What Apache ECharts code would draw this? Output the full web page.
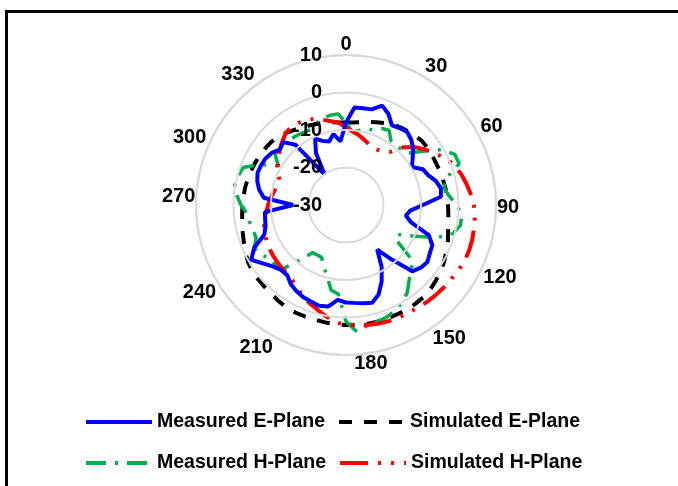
<!DOCTYPE html>
<html>
<head>
<meta charset="utf-8">
<script src="https://cdn.jsdelivr.net/npm/echarts@6/dist/echarts.min.js"></script>
<style>
html, body { margin: 0; padding: 0; background: #fff; }
#chart { width: 678px; height: 486px; }
</style>
</head>
<body>
<div id="chart"></div>
<script>
// angle in degrees, clockwise from top
const angles = [0, 5, 10, 15, 20, 25, 30, 35, 40, 45, 50, 55, 60, 65, 70, 75, 80, 85,
    90, 95, 100, 105, 110, 115, 120, 125, 130, 135, 140, 145, 150, 155, 160, 165, 170, 175,
    180, 185, 190, 195, 200, 205, 210, 215, 220, 225, 230, 235, 240, 245, 250, 255, 260, 265,
    270, 275, 280, 285, 290, 295, 300, 305, 310, 315, 320, 325, 330, 335, 340, 345, 350, 355];

// gain in dB
const measuredE = [-8.0, -3.9, -3.8, -3.6, -1.8, -3.2, -5.5, -5.0, -4.6, -5.4, -6.6, -8.3, -9.7, -7.4, -6.7, -5.2, -4.3, -4.6,
    -9.5, -12.8, -13.8, -12.0, -6.5, -4.6, -4.2, -3.5, -4.0, -5.0, -11.0, -15.5, -11.0, -7.5, -4.6, -3.0, -3.4, -3.8,
    -4.0, -4.6, -2.5, -2.2, -2.6, -2.9, -3.5, -4.3, -5.6, -5.5, -4.5, -2.9, -0.8, -3.0, -6.8, -7.8, -8.1, -8.3,
    -15.9, -8.0, -6.5, -5.5, -4.9, -5.0, -5.2, -5.8, -7.0, -6.3, -9.0, -20.0, -14.0, -10.5, -11.8, -12.5, -10.8, -13.0];

const simulatedE = [-8.0, -7.9, -7.6, -7.1, -6.5, -5.9, -5.2, -4.7, -4.3, -3.9, -3.5, -3.5, -3.5, -3.5, -3.4, -3.3, -3.1, -3.0,
    -2.8, -2.6, -2.3, -1.8, -1.1, -0.5, 0.2, 0.8, 1.3, 1.8, 2.1, 2.2, 2.2, 2.2, 2.2, 2.2, 2.2, 2.1,
    2.0, 1.9, 1.8, 1.7, 1.7, 1.7, 1.6, 1.3, 1.0, 0.8, 0.7, 0.6, 0.2, -0.4, -1.0, -1.5, -1.9, -2.2,
    -2.4, -2.6, -2.7, -2.9, -3.1, -3.3, -3.5, -3.7, -3.9, -4.3, -5.0, -5.6, -6.2, -6.6, -7.0, -7.3, -7.6, -7.9];

const measuredH = [-8.0, -10.5, -9.8, -9.0, -8.7, -7.5, -7.0, -9.1, -9.4, -9.0, -8.5, -5.0, -0.5, 2.0, 2.1, -2.3, -3.5, -2.4,
    -0.5, 1.0, 1.0, -0.5, -4.5, -10.5, -14.3, -13.5, -6.6, -5.5, -3.8, -1.5, 0.0, 1.0, 1.8, 2.2, 2.6, 4.0,
    1.0, -6.2, -7.0, -10.5, -12.5, -14.6, -14.6, -14.5, -11.0, -5.5, -5.3, -5.3, -3.5, -3.0, -4.5, -4.3, -3.9, -3.5,
    -2.0, -0.8, 0.1, -0.2, -0.8, -4.5, -9.2, -7.0, -5.8, -6.5, -7.1, -7.3, -7.6, -7.8, -6.8, -6.1, -5.7, -5.6];

const simulatedH = [-9.3, -10.3, -11.0, -11.8, -12.6, -13.2, -13.0, -12.6, -11.5, -8.2, -6.0, -4.2, -2.6, -0.5, 0.8, 1.8, 2.6, 3.4,
    4.1, 4.5, 4.7, 4.9, 5.0, 5.0, 4.7, 4.3, 4.1, 3.9, 3.7, 3.4, 3.2, 3.1, 3.0, 2.8, 2.5, 2.2,
    2.0, 1.4, 0.2, -1.0, -2.0, -3.0, -4.3, -5.3, -5.8, -6.0, -6.2, -6.3, -6.5, -6.7, -7.0, -7.4, -7.8, -8.7,
    -9.2, -9.8, -10.4, -10.9, -11.2, -10.0, -9.0, -8.2, -6.9, -6.0, -5.0, -4.6, -4.7, -5.0, -5.5, -6.5, -7.3, -8.0];

const seriesNames = ['Measured E-Plane', 'Simulated E-Plane', 'Measured H-Plane', 'Simulated H-Plane'];

// polar points [r, angle], closed back to the start
function toPolar(vals) {
    const pts = angles.map((a, i) => [vals[i], a]);
    pts.push([vals[0], 360]);
    return pts;
}

const font = 'Liberation Sans, Arial, sans-serif';
const chart = echarts.init(document.getElementById('chart'), null, { renderer: 'canvas' });

// the original tool set its angle labels a little off the exact 30 degree marks
const angleLabelSpots = [0, 31.6, 62.9, 91, 114.6, 145, 170.5, 209, 239.3, 273.3, 292.3, 322.8];

const legendText = { color: '#000', fontSize: 19.5, fontWeight: 'bold', fontFamily: font };

chart.setOption({
    backgroundColor: '#fff',
    animation: false,
    graphic: [{
        type: 'rect',
        shape: { x: 6.5, y: 11.5, width: 700, height: 500 },
        style: { fill: 'none', stroke: '#000', lineWidth: 3 },
        silent: true
    }],
    polar: {
        center: [346, 205],
        radius: 150
    },
    angleAxis: {
        type: 'value',
        min: 0,
        max: 360,
        interval: 30,
        startAngle: 90,
        clockwise: true,
        axisLine: { show: true, lineStyle: { color: '#d9d9d9', width: 2 } },
        axisTick: { show: false },
        splitLine: { show: false },
        axisLabel: {
            margin: 1,
            customValues: angleLabelSpots,
            color: '#000',
            fontSize: 20,
            fontWeight: 'bold',
            fontFamily: font,
            formatter: v => String((Math.round(v / 30) * 30) % 360)
        }
    },
    radiusAxis: {
        type: 'value',
        min: -30,
        max: 10,
        interval: 10,
        z: 10,
        axisLine: { show: false },
        axisTick: { show: false },
        splitLine: { show: true, lineStyle: { color: '#d9d9d9', width: 2 } },
        axisLabel: {
            margin: 24,
            padding: [6, 0, 0, 0],
            color: '#000',
            fontSize: 20,
            fontWeight: 'bold',
            fontFamily: font
        }
    },
    legend: [
        {
            data: [seriesNames[0], seriesNames[1]],
            left: 79,
            top: 407,
            itemWidth: 66,
            itemHeight: 14,
            itemGap: 12,
            itemStyle: { opacity: 0 },
            lineStyle: { width: 4 },
            textStyle: legendText
        },
        {
            data: [seriesNames[2], seriesNames[3]],
            left: 79,
            top: 448,
            itemWidth: 66,
            itemHeight: 14,
            itemGap: 12,
            itemStyle: { opacity: 0 },
            lineStyle: { width: 4 },
            textStyle: legendText
        }
    ],
    series: [
        {
            name: seriesNames[0],
            type: 'line',
            coordinateSystem: 'polar',
            showSymbol: false,
            symbol: 'none',
            z: 5,
            data: toPolar(measuredE),
            itemStyle: { color: '#0000ff' },
            lineStyle: { color: '#0000ff', width: 4 }
        },
        {
            name: seriesNames[1],
            type: 'line',
            coordinateSystem: 'polar',
            showSymbol: false,
            symbol: 'none',
            z: 3,
            data: toPolar(simulatedE),
            itemStyle: { color: '#000' },
            lineStyle: { color: '#000', width: 4, type: [13, 12] }
        },
        {
            name: seriesNames[2],
            type: 'line',
            coordinateSystem: 'polar',
            showSymbol: false,
            symbol: 'none',
            z: 4,
            data: toPolar(measuredH),
            itemStyle: { color: '#00b050' },
            lineStyle: { color: '#00b050', width: 3.5, type: [20, 9, 3, 9] }
        },
        {
            name: seriesNames[3],
            type: 'line',
            coordinateSystem: 'polar',
            showSymbol: false,
            symbol: 'none',
            z: 4,
            data: toPolar(simulatedH),
            itemStyle: { color: '#ff0000' },
            lineStyle: { color: '#ff0000', width: 4, type: [28, 10, 3, 10, 3, 10] }
        }
    ]
});
</script>
</body>
</html>
